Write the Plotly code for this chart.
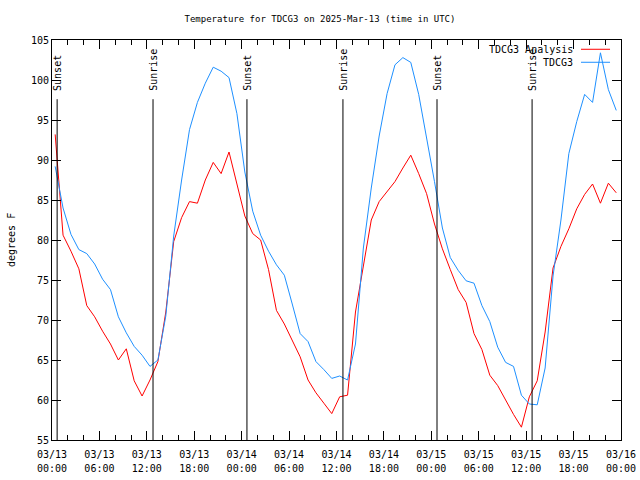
import pandas as pd
import plotly.graph_objects as go

# ---- data ----
start_time = "2025-03-13 00:24"
n_hours = 72

analysis_temp = [
    93.2, 80.6, 78.6, 76.4, 71.8, 70.4, 68.6, 67.0, 65.0, 66.4, 62.4, 60.5,
    62.5, 64.8, 71.0, 79.8, 82.8, 84.8, 84.6, 87.5, 89.7, 88.3, 91.0, 87.0,
    83.0, 80.8, 80.0, 76.3, 71.2, 69.5, 67.4, 65.4, 62.5, 60.9, 59.6, 58.3,
    60.4, 60.6, 71.0, 76.5, 82.5, 84.8, 86.0, 87.3, 89.0, 90.6, 88.3, 85.8,
    82.0, 78.9, 76.3, 73.8, 72.2, 68.3, 66.3, 63.1, 61.8, 60.0, 58.2, 56.6,
    60.4, 62.4, 68.5, 76.5, 79.2, 81.4, 83.9, 85.7, 87.0, 84.6, 87.1, 85.9,
]

station_temp = [
    89.2, 84.0, 80.7, 78.8, 78.3, 77.0, 75.1, 73.8, 70.4, 68.4, 66.7, 65.6,
    64.2, 65.0, 70.5, 80.5, 87.5, 93.8, 97.2, 99.6, 101.6, 101.1, 100.3, 95.8,
    88.5, 83.6, 80.6, 78.6, 76.9, 75.6, 72.0, 68.3, 67.3, 64.8, 63.8, 62.7,
    63.0, 62.5, 67.0, 79.0, 86.5, 93.0, 98.3, 101.9, 102.8, 102.2, 98.2, 92.9,
    87.3, 81.5, 77.8, 76.2, 74.9, 74.6, 71.8, 69.8, 66.6, 64.7, 64.2, 60.6,
    59.5, 59.4, 64.0, 75.5, 82.5, 90.8, 94.8, 98.2, 97.2, 103.4, 98.8, 96.2,
]

sun_events = ["Sunset", "Sunrise", "Sunset", "Sunrise", "Sunset", "Sunrise"]
sun_times = [
    "2025-03-13 00:39", "2025-03-13 12:47",
    "2025-03-14 00:40", "2025-03-14 12:49",
    "2025-03-15 00:43", "2025-03-15 12:45",
]

series_names = ["TDCG3 Analysis", "TDCG3"]
series_colors = ["#ff0000", "#1e90ff"]

x_start = "2025-03-13 00:00"
x_end = "2025-03-16 00:00"

times = pd.date_range(start_time, periods=n_hours, freq="h")

FONT = "DejaVu Sans Mono"
SIX_H = 6 * 3600 * 1000
TWO_H = 2 * 3600 * 1000

fig = go.Figure()
for name, vals, col in zip(series_names, [analysis_temp, station_temp], series_colors):
    fig.add_trace(go.Scatter(x=times, y=vals, mode="lines", name=name,
                             line=dict(color=col, width=1), showlegend=False))
# empty helper trace so the overlaid hour-label axis gets drawn
fig.add_trace(go.Scatter(x=[], y=[], xaxis="x2", yaxis="y", showlegend=False,
                         hoverinfo="skip"))

# sunrise / sunset markers
for ev, t in zip(sun_events, sun_times):
    fig.add_shape(type="line", xref="x", yref="y", x0=t, x1=t, y0=55, y1=97.6,
                  line=dict(color="black", width=1))
    fig.add_annotation(x=t, y=98.4, xref="x", yref="y", text=ev, textangle=-90,
                       showarrow=False, xanchor="center", yanchor="bottom",
                       xshift=1,
                       font=dict(family=FONT, size=10, color="black"))

# gnuplot-style key: text then line sample
key_rows = [0.9768, 0.9443]
for name, col, yk in zip(series_names, series_colors, key_rows):
    fig.add_annotation(x=0.9185, y=yk, xref="paper", yref="paper", text=name,
                       showarrow=False, xanchor="right", yanchor="middle",
                       font=dict(family=FONT, size=10, color="black"))
    fig.add_shape(type="line", xref="paper", yref="paper", x0=0.9297, x1=0.9807,
                  y0=yk, y1=yk, line=dict(color=col, width=1))

# y axis title
fig.add_annotation(x=-0.072, y=0.5, xref="paper", yref="paper", text="degrees F",
                   textangle=-90, showarrow=False, xanchor="center", yanchor="middle",
                   font=dict(family=FONT, size=10, color="black"))

fig.update_layout(
    width=640, height=480,
    margin=dict(l=52, r=19, t=40, b=40, autoexpand=False),
    paper_bgcolor="white", plot_bgcolor="white",
    font=dict(family=FONT, size=10, color="black"),
    title=dict(text="Temperature for TDCG3 on 2025-Mar-13 (time in UTC)",
               x=0.5, xref="container", xanchor="center",
               y=1 - 19 / 480, yref="container", yanchor="middle",
               font=dict(family=FONT, size=9, color="black")),
    showlegend=False,
    xaxis=dict(
        range=[x_start, x_end], type="date", dtick=SIX_H, tick0=x_start,
        tickformat="%m/%d", ticks="inside", ticklen=9, tickcolor="black",
        ticklabelstandoff=5,
        showline=True, linecolor="black", linewidth=1, mirror="ticks",
        showgrid=False, zeroline=False, automargin=False,
        minor=dict(dtick=TWO_H, tick0=x_start, ticks="inside",
                   ticklen=5, tickcolor="black", showgrid=False),
        tickfont=dict(family=FONT, size=10, color="black"),
    ),
    # second line of the time labels (hours) on an overlaid axis
    xaxis2=dict(
        overlaying="x", anchor="y", side="bottom",
        range=[x_start, x_end], type="date", dtick=SIX_H, tick0=x_start,
        tickformat="%H:%M", ticks="", showline=False, showgrid=False,
        zeroline=False, ticklabelstandoff=21, automargin=False,
        tickfont=dict(family=FONT, size=10, color="black"),
    ),
    yaxis=dict(
        range=[55, 105], dtick=5, ticks="inside", ticklen=9, tickcolor="black",
        showline=True, linecolor="black", linewidth=1, mirror="ticks",
        showgrid=False, zeroline=False, automargin=False,
        tickfont=dict(family=FONT, size=10, color="black"),
    ),
)

fig.write_html("out.html")
